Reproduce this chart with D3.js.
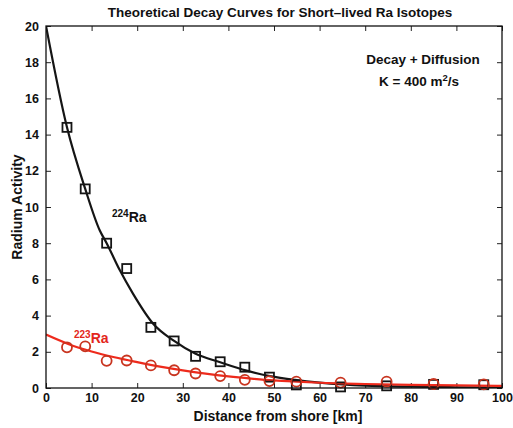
<!DOCTYPE html>
<html>
<head>
<meta charset="utf-8">
<script src="https://cdn.jsdelivr.net/npm/d3@7/dist/d3.min.js"></script>
<style>
  html, body { margin: 0; padding: 0; background: #fff; }
  svg { display: block; }
  text { font-family: "Liberation Sans", Arial, Helvetica, sans-serif; font-weight: bold; }
</style>
</head>
<body>
<svg id="chart" width="513" height="428"></svg>
<script>
// ---- Data ----
const sampleDistance = [4.6, 8.6, 13.3, 17.7, 23.0, 28.1, 32.8, 38.2, 43.6, 49.0, 54.9, 64.6, 74.7, 85.0, 96.0];
const ra224Measured  = [14.4, 11.0, 8.0, 6.6, 3.35, 2.6, 1.75, 1.45, 1.15, 0.6, 0.17, 0.06, 0.12, 0.2, 0.18];
const ra223Measured  = [2.25, 2.3, 1.5, 1.52, 1.25, 0.98, 0.8, 0.66, 0.45, 0.38, 0.35, 0.3, 0.35, 0.22, 0.2];

const curveDistance  = [0, 4.6, 8.6, 11.8, 13.3, 16.2, 19.1, 23.5, 28.1, 32.7, 38.2, 44, 49.1, 54.6, 60, 65, 70, 80, 90, 100];
const ra224Curve     = [20, 14.4, 11.0, 8.7, 8.0, 6.5, 5.2, 3.55, 2.6, 1.9, 1.42, 0.96, 0.66, 0.45, 0.3, 0.2, 0.13, 0.07, 0.04, 0.02];

const curve223Distance = [0, 5, 10, 15, 20, 25, 30, 35, 40, 45, 50, 55, 60, 70, 80, 90, 100];
const ra223Curve       = [2.95, 2.42, 2.02, 1.7, 1.43, 1.18, 0.97, 0.79, 0.64, 0.52, 0.42, 0.35, 0.29, 0.22, 0.17, 0.14, 0.12];

const xTicks = [0, 10, 20, 30, 40, 50, 60, 70, 80, 90, 100];
const yTicks = [0, 2, 4, 6, 8, 10, 12, 14, 16, 18, 20];

const titleText = "Theoretical Decay Curves for Short\u2013lived Ra Isotopes";
const xLabel = "Distance from shore [km]";
const yLabel = "Radium Activity";

// ---- Layout ----
const W = 513, H = 428;
const m = { left: 46, top: 26, right: 11, bottom: 40 };
const pw = W - m.left - m.right, ph = H - m.top - m.bottom;

const svg = d3.select("#chart");
const g = svg.append("g").attr("transform", `translate(${m.left},${m.top})`);

const x = d3.scaleLinear().domain([0, 100]).range([0, pw]);
const y = d3.scaleLinear().domain([0, 20]).range([ph, 0]);

const tickLen = 5;
const axB = d3.axisBottom(x).tickValues(xTicks).tickSizeInner(-tickLen).tickSizeOuter(0).tickPadding(5);
const axT = d3.axisTop(x).tickValues(xTicks).tickSizeInner(-tickLen).tickSizeOuter(0).tickFormat("");
const axL = d3.axisLeft(y).tickValues(yTicks).tickSizeInner(-tickLen).tickSizeOuter(0).tickPadding(7);
const axR = d3.axisRight(y).tickValues(yTicks).tickSizeInner(-tickLen).tickSizeOuter(0).tickFormat("");

function style(sel) {
  sel.select(".domain").remove();
  sel.selectAll(".tick line").attr("stroke", "#222").attr("stroke-width", 1);
  sel.selectAll(".tick text").attr("fill", "#111").style("font-size", "12.5px").style("font-weight", "bold");
}
g.append("g").attr("transform", `translate(0,${ph})`).call(axB).call(style);
g.append("g").call(axT).call(style);
g.append("g").call(axL).call(style);
g.append("g").attr("transform", `translate(${pw},0)`).call(axR).call(style);

svg.append("defs").append("clipPath").attr("id", "clip")
  .append("rect").attr("x", 0).attr("y", 0).attr("width", pw).attr("height", ph);

const plot = g.append("g").attr("clip-path", "url(#clip)");

const lineGen = d3.line().x(d => x(d[0])).y(d => y(d[1])).curve(d3.curveMonotoneX);
plot.append("path")
  .datum(curveDistance.map((d, i) => [d, ra224Curve[i]]))
  .attr("d", lineGen).attr("fill", "none").attr("stroke", "#151515").attr("stroke-width", 2.2);

const sq = 9;
g.selectAll("rect.sq").data(sampleDistance.map((d, i) => [d, ra224Measured[i]]))
  .enter().append("rect").attr("class", "sq")
  .attr("x", d => x(d[0]) - sq / 2).attr("y", d => y(d[1]) - sq / 2)
  .attr("width", sq).attr("height", sq)
  .attr("fill", "none").attr("stroke", "#151515").attr("stroke-width", 1.8);

plot.append("path")
  .datum(curve223Distance.map((d, i) => [d, ra223Curve[i]]))
  .attr("d", lineGen).attr("fill", "none").attr("stroke", "#ee2a1c").attr("stroke-width", 2.2);

g.selectAll("circle.c").data(sampleDistance.map((d, i) => [d, ra223Measured[i]]))
  .enter().append("circle").attr("class", "c")
  .attr("cx", d => x(d[0])).attr("cy", d => y(d[1])).attr("r", 5)
  .attr("fill", "none").attr("stroke", "#c8341f").attr("stroke-width", 1.8);

g.append("rect").attr("x", 0).attr("y", 0).attr("width", pw).attr("height", ph)
  .attr("fill", "none").attr("stroke", "#111").attr("stroke-width", 1.3);

svg.append("text").attr("x", 280).attr("y", 17).attr("text-anchor", "middle")
  .style("font-size", "13.5px").attr("fill", "#111").text(titleText);
svg.append("text").attr("x", 278).attr("y", 421).attr("text-anchor", "middle")
  .style("font-size", "14px").attr("fill", "#111").text(xLabel);
svg.append("text").attr("transform", `translate(22,${m.top + ph / 2}) rotate(-90)`)
  .attr("text-anchor", "middle").style("font-size", "14px").attr("fill", "#111").text(yLabel);

svg.append("text").attr("x", 423).attr("y", 64).attr("text-anchor", "middle")
  .style("font-size", "13.5px").attr("fill", "#111").text("Decay + Diffusion");
const k = svg.append("text").attr("x", 419).attr("y", 86).attr("text-anchor", "middle")
  .style("font-size", "13.5px").attr("fill", "#111");
k.append("tspan").text("K = 400 m");
k.append("tspan").attr("dy", -5).style("font-size", "9.5px").text("2");
k.append("tspan").attr("dy", 5).text("/s");

const l224 = svg.append("text").attr("x", 112).attr("y", 222).style("font-size", "14px").attr("fill", "#111");
l224.append("tspan").attr("dy", -5).style("font-size", "10px").text("224");
l224.append("tspan").attr("dy", 5).text("Ra");

const l223 = svg.append("text").attr("x", 74).attr("y", 343).style("font-size", "14px").attr("fill", "#e3261b");
l223.append("tspan").attr("dy", -5).style("font-size", "10px").text("223");
l223.append("tspan").attr("dy", 5).text("Ra");
</script>
</body>
</html>
